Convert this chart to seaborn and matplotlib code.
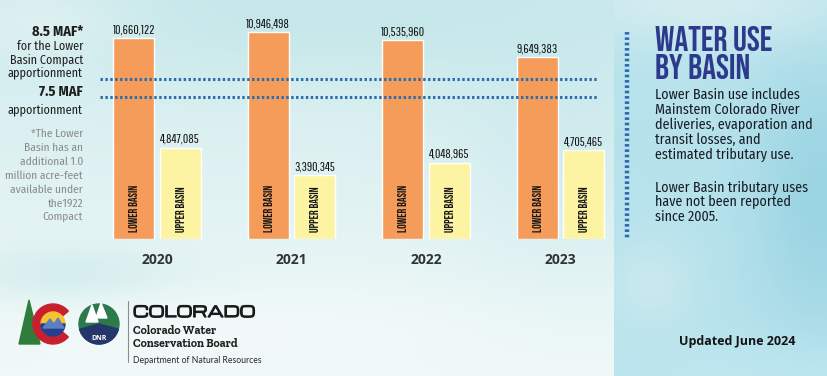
import matplotlib
matplotlib.use("Agg")
import matplotlib.pyplot as plt
from matplotlib import font_manager as fm
from matplotlib import patheffects as pe
from matplotlib.patches import Circle, Wedge, Polygon
import seaborn as sns
import numpy as np
import pandas as pd

# ---------------- data ----------------
years = ["2020", "2021", "2022", "2023"]
lower_basin = [10660122, 10946498, 10535960, 9649383]
upper_basin = [4847085, 3390345, 4048965, 4705465]
basins = ["LOWER BASIN", "UPPER BASIN"]
compact_levels = [8.5e6, 7.5e6]

# ---------------- fonts ----------------
_entries = fm.fontManager.ttflist


def _w(v):
    if isinstance(v, str):
        return fm.weight_dict.get(v, 400)
    return int(v)


def pick(cands, bold=False, regular=False):
    for c in cands:
        ws = [_w(f.weight) for f in _entries if f.name == c]
        if not ws:
            continue
        if bold and max(ws) < 600:
            continue
        if regular and not any(350 <= w <= 450 for w in ws):
            continue
        return c
    return "DejaVu Sans"


COND = ["Fira Sans Condensed", "Roboto Condensed", "PT Sans Narrow", "Archivo Narrow",
        "Open Sans Condensed", "Liberation Sans Narrow"]
F_TITLE = pick(["Bebas Neue", "League Gothic", "Oswald", "Fjalla One", "Antonio"])
F_NUM = pick(["Pathway Gothic One", "League Gothic", "Oswald", "Bebas Neue"])
F_BARLBL = pick(["Bebas Neue", "League Gothic", "Oswald"])
F_COND = pick(COND, regular=True)
F_CONDB = pick(COND, bold=True)
F_OPENB = pick(["Open Sans", "Noto Sans", "Lato", "DejaVu Sans"], bold=True)
F_WIDE = pick(["Michroma", "Syncopate", "Zalando Sans Expanded", "Montserrat"])
F_SLAB = pick(["Roboto Slab", "Zilla Slab", "Bitter", "Arvo"], bold=True)
F_THIN = pick(["Montserrat", "Lato", "Open Sans"], regular=True)

sns.set_style("white")

W, H = 828, 376
fig = plt.figure(figsize=(W / 100, H / 100), dpi=100)

# ---------------- background (watercolor wash) ----------------
bg = fig.add_axes([0, 0, 1, 1], zorder=0)
yy, xx = np.mgrid[0:H, 0:W].astype(float)


def blob(cx, cy, sx, sy):
    return np.exp(-(((xx - cx) / sx) ** 2 + ((yy - cy) / sy) ** 2))


def mix(img, col, w):
    w = np.clip(w, 0, 1)[..., None]
    return img * (1 - w) + np.array(col, float) * w


t = (yy / H)[..., None]
img = np.array([210, 236, 238], float) * (1 - t) + np.array([240, 249, 248], float) * t
img = mix(img, (192, 229, 232), 0.7 * blob(360, 10, 380, 70))
img = mix(img, (198, 231, 232), 0.55 * blob(70, 275, 110, 28))
img = mix(img, (246, 251, 250), 0.6 * blob(250, 330, 260, 40))
img = mix(img, (200, 232, 237), 0.6 * blob(570, 110, 120, 150))
img = mix(img, (236, 246, 247), 0.5 * blob(40, 20, 90, 40))
panel = np.array([184, 227, 236], float) * np.ones_like(img)
panel = mix(panel, (148, 209, 224), 0.8 * blob(820, 200, 70, 140))
panel = mix(panel, (220, 239, 242), 0.8 * blob(700, 0, 160, 45))
panel = mix(panel, (212, 236, 240), 0.6 * blob(650, 285, 45, 45))
panel = mix(panel, (194, 233, 242), 0.6 * blob(760, 376, 200, 40))
inpanel = (xx >= 614)[..., None]
img = np.where(inpanel, panel, img)
bg.imshow(img.astype(np.uint8), extent=(0, W, H, 0), aspect="auto", interpolation="bilinear", zorder=0)
bg.set_xlim(0, W)
bg.set_ylim(H, 0)
bg.axis("off")

# ---------------- bar chart ----------------
df = pd.DataFrame({
    "year": years * 2,
    "basin": [basins[0]] * len(years) + [basins[1]] * len(years),
    "value": lower_basin + upper_basin,
})

px_per_unit = 18.87 / 1e6
ax = fig.add_axes([100 / W, (H - 239) / H, 510 / W, 219 / H], zorder=2)
ax.patch.set_alpha(0)
sns.barplot(data=df, x="year", y="value", hue="basin", order=years, hue_order=basins,
            palette=["#f59c5a", "#fdf4a3"], saturation=1, width=0.69, gap=0.12,
            legend=False, ax=ax, zorder=2)
ax.set_xlim(-0.424, 3.368)
ax.set_ylim(0, 219 / px_per_unit)
for s in ax.spines.values():
    s.set_visible(False)
ax.set_yticks([])
ax.set_xlabel("")
ax.set_ylabel("")
ax.tick_params(axis="x", length=0, pad=10)
for lbl in ax.get_xticklabels():
    lbl.set_fontfamily(F_OPENB)
    lbl.set_fontweight("bold")
    lbl.set_fontsize(10)
    lbl.set_color("#333333")

for level in compact_levels:
    ax.axhline(level, xmin=0, xmax=(598 - 100) / 510, color="#2c6fae", lw=2.2,
               ls=(0, (0.8, 0.8)), zorder=4)

series_vals = [lower_basin, upper_basin]
for cont, name, vals in zip(ax.containers, basins, series_vals):
    ax.bar_label(cont, labels=[f"{v:,}" for v in vals], padding=2, fontsize=9.5,
                 family=F_NUM, color="#141414")
    for bar in cont:
        ax.annotate(name, xy=(bar.get_x() + bar.get_width() / 2, 0), xytext=(0, 7),
                    textcoords="offset pixels", rotation=90, ha="center", va="bottom",
                    fontsize=8.5, family=F_BARLBL, color="#151515", zorder=5)

# ---------------- left annotations ----------------
ann = [
    ("8.5 MAF*", 36, "bold", "#1e1e1e", 10.3),
    ("for the Lower", 50, "normal", "#1e1e1e", 8.7),
    ("Basin Compact", 63, "normal", "#1e1e1e", 8.7),
    ("apportionment", 76, "normal", "#1e1e1e", 8.7),
    ("7.5 MAF", 96, "bold", "#1e1e1e", 10.3),
    ("apportionment", 113, "normal", "#1e1e1e", 8.7),
    ("*The Lower", 137, "normal", "#8a8a8a", 8.2),
    ("Basin has an", 151, "normal", "#8a8a8a", 8.2),
    ("additional 1.0", 165, "normal", "#8a8a8a", 8.2),
    ("million acre-feet", 179, "normal", "#8a8a8a", 8.2),
    ("available under", 193, "normal", "#8a8a8a", 8.2),
    ("the1922", 207, "normal", "#8a8a8a", 8.2),
    ("Compact", 220, "normal", "#8a8a8a", 8.2),
]
for txt, yb, wt, col, fs in ann:
    bg.text(83, yb, txt, ha="right", va="baseline", fontsize=fs, fontweight=wt,
            family=F_CONDB if wt == "bold" else F_COND, color=col)

# ---------------- right panel ----------------
bg.plot([627, 627], [32, 238], color="#2f6db5", lw=3.2, ls=(0, (0.6, 0.6)), solid_capstyle="butt")
bg.text(655, 51, "WATER USE", ha="left", va="baseline", fontsize=25, family=F_TITLE, color="#2d3a8c")
bg.text(655, 79, "BY BASIN", ha="left", va="baseline", fontsize=25, family=F_TITLE, color="#2d3a8c")
para1 = ["Lower Basin use includes", "Mainstem Colorado River", "deliveries, evaporation and",
         "transit losses, and", "estimated tributary use."]
para2 = ["Lower Basin tributary uses", "have not been reported", "since 2005."]
for i, line in enumerate(para1):
    bg.text(655, 99 + 15 * i, line, ha="left", va="baseline", fontsize=10.1, family=F_COND,
            color="#161c26")
for i, line in enumerate(para2):
    bg.text(655, 192 + 14.5 * i, line, ha="left", va="baseline", fontsize=10.1, family=F_COND,
            color="#161c26")
bg.text(679, 345, "Updated June 2024", ha="left", va="baseline", fontsize=9, fontweight="bold",
        family=F_OPENB, color="#141414")

# ---------------- logo block ----------------
bg.add_patch(Polygon([(19, 344), (29, 300), (40, 344)], closed=True, color="#2f7d3a", zorder=2))
bg.add_patch(Wedge((53, 324), 20, 40, 320, width=8, color="#c8202f", zorder=3))
bg.add_patch(Wedge((53, 324), 12, 180, 360, color="#f4c430", zorder=3))
bg.add_patch(Wedge((53, 324), 12, 0, 180, color="#23408e", zorder=3))
bg.add_patch(Polygon([(43, 328), (50, 319), (54, 324), (58, 318), (64, 328)], closed=True,
                     color="#5b7fc0", zorder=4))
bg.add_patch(Circle((99, 324), 20, color="#2c7a4b", zorder=3))
bg.add_patch(Wedge((99, 324), 20, 15, 165, color="#25366a", zorder=4))
bg.add_patch(Polygon([(86, 322), (92, 305), (98, 322)], closed=True, color="white", zorder=4))
bg.add_patch(Polygon([(96, 318), (101, 303), (107, 318)], closed=True, color="white", zorder=4))
bg.text(99, 338, "DNR", ha="center", va="center", fontsize=5, fontweight="bold", color="white",
        family=F_OPENB, zorder=5)
bg.plot([128, 128], [301, 362], color="#8c8c8c", lw=0.8)
bg.text(133, 317, "COLORADO", ha="left", va="baseline", fontsize=10.8, fontweight="bold",
        family=F_WIDE, color="#1a1a1a",
        path_effects=[pe.withStroke(linewidth=0.9, foreground="#1a1a1a")])
bg.text(133, 334, "Colorado Water", ha="left", va="baseline", fontsize=8.5, fontweight="bold",
        family=F_SLAB, color="#222222")
bg.text(133, 347, "Conservation Board", ha="left", va="baseline", fontsize=8.5, fontweight="bold",
        family=F_SLAB, color="#222222")
bg.text(133, 363, "Department of Natural Resources", ha="left", va="baseline", fontsize=6.2,
        family=F_THIN, color="#2a2a2a")

fig.savefig("out.png", dpi=100)
